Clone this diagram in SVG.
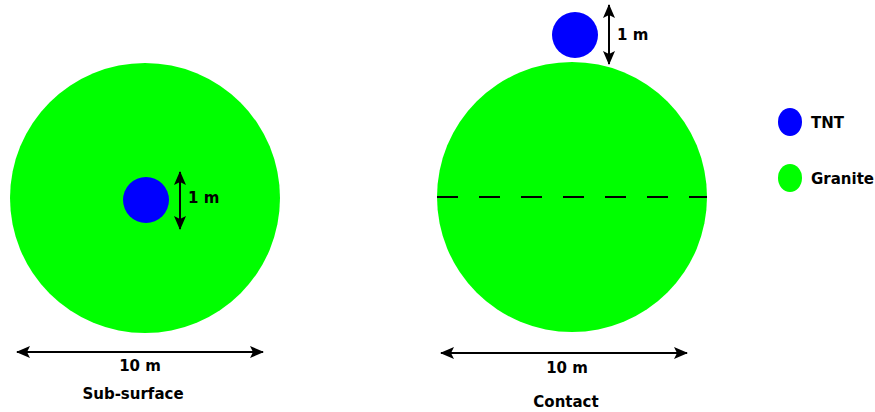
<svg xmlns="http://www.w3.org/2000/svg" width="875" height="412" viewBox="0 0 875 412">
<style>
.granite{fill:#00ff00;}
.tnt{fill:#0000ff;}
.lbl{font-family:"DejaVu Sans",Verdana,sans-serif;font-weight:bold;font-size:15px;fill:#000;}
.dim{stroke:#000;stroke-width:2;fill:none;marker-start:url(#ah);marker-end:url(#ah);}
</style>
<defs>
<marker id="ah" viewBox="0 0 14 12" refX="13" refY="6" markerWidth="14" markerHeight="12" markerUnits="userSpaceOnUse" orient="auto-start-reverse">
<path d="M0,0 L14,6 L0,12 L3,6 Z" fill="#000"/>
</marker>
</defs>
<rect width="875" height="412" fill="#fff"/>
<g id="subsurface">
<circle class="granite" cx="145" cy="198" r="135"/>
<circle class="tnt" cx="146" cy="200" r="23"/>
</g>
<g id="contact">
<circle class="granite" cx="572" cy="197" r="135"/>
<circle class="tnt" cx="575" cy="35" r="23"/>
</g>
<g id="legend-tnt">
<ellipse class="tnt" cx="790" cy="122" rx="12" ry="14"/>
<text class="lbl" x="811" y="128">TNT</text>
</g>
<g id="legend-granite">
<ellipse class="granite" cx="790" cy="178" rx="12" ry="14"/>
<text class="lbl" x="811" y="184">Granite</text>
</g>
<g id="connectors">
<line class="dim" x1="180" y1="172" x2="180" y2="229"/>
<line class="dim" x1="609" y1="5" x2="609" y2="64"/>
<line class="dim" x1="17" y1="352" x2="263" y2="352"/>
<line class="dim" x1="441" y1="353" x2="687" y2="353"/>
<line x1="437" y1="197" x2="707" y2="197" stroke="#000" stroke-width="2" stroke-dasharray="21 21"/>
</g>
<g id="labels">
<text class="lbl" x="188" y="203">1 m</text>
<text class="lbl" x="617" y="40">1 m</text>
<text class="lbl" x="140" y="371" text-anchor="middle">10 m</text>
<text class="lbl" x="133" y="399" text-anchor="middle">Sub-surface</text>
<text class="lbl" x="567" y="373" text-anchor="middle">10 m</text>
<text class="lbl" x="566" y="407" text-anchor="middle">Contact</text>
</g>
</svg>
